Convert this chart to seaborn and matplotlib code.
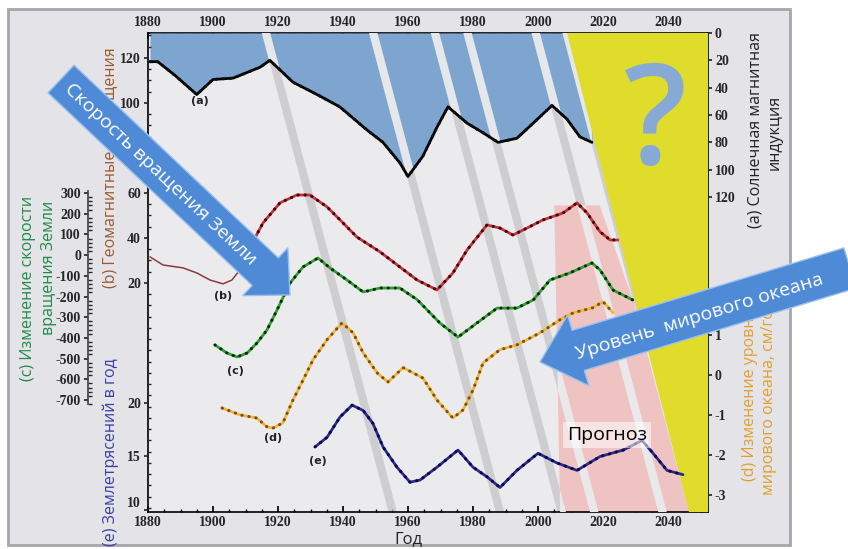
import matplotlib
matplotlib.use('Agg')
import matplotlib.pyplot as plt
import seaborn as sns
from matplotlib.patches import FancyArrow, Rectangle
from matplotlib.ticker import MultipleLocator, FixedLocator

# (a) solar magnetic induction (right axis, inverted)
a_years = [1880.6, 1883, 1888.3, 1895, 1900, 1906.2, 1914.5, 1917.5, 1924.6, 1932, 1939,
           1947.4, 1952.3, 1957.5, 1960, 1964.6, 1968.9, 1972.3, 1978.2, 1983.1, 1987.7,
           1993.5, 1998.5, 2004.3, 2008.9, 2012.9, 2016.6]
a_vals = [21, 21, 31, 45, 34, 33, 25, 20, 36, 45, 54, 71, 80, 95, 105, 90, 69, 54, 66, 73,
          80, 77, 66, 53, 63, 76, 80]

# (b) geomagnetic disturbance: early thin part and main part
b_early_years = [1880.6, 1884.6, 1890.8, 1895.1, 1899.1, 1903.1, 1905.8, 1908.3]
b_early_vals = [31.6, 28, 26.7, 24.4, 21.3, 19.6, 21.3, 25.8]
b_years = [1908.3, 1911.4, 1915.4, 1920.6, 1925.8, 1929.8, 1935.1, 1939.1, 1944.3, 1951.4,
           1957.5, 1962.8, 1968.9, 1973.8, 1978.2, 1984.3, 1988.3, 1992.3, 1996.6, 2001.5,
           2007.7, 2012, 2015.1, 2019.1, 2022.2, 2024.6]
b_vals = [25.8, 36, 46.7, 55.6, 59.1, 59.1, 53.8, 48, 40.4, 33.8, 27.1, 21.3, 16.9, 24.4,
          34.7, 45.8, 44.4, 41.3, 44.4, 48, 51.1, 55.6, 51.1, 42.7, 39.1, 39.1]

# (c) change of Earth rotation speed
c_years = [1900.6, 1904.3, 1907.4, 1910.5, 1913.5, 1916.6, 1919.7, 1923.7, 1927.7, 1932.3,
           1936, 1941.2, 1946.2, 1951.4, 1957.5, 1962.8, 1969.8, 1975.4, 1981.2, 1987.4,
           1993.5, 1998.5, 2003.7, 2009.8, 2016.6, 2019.1, 2023.1, 2029.2]
c_vals = [-434, -473, -492, -473, -425, -362, -265, -135, -57, -14, -62, -120, -178, -159,
          -159, -215, -328, -396, -328, -256, -256, -217, -120, -86, -38, -72, -169, -217]

# (d) sea level change, cm/year
d_years = [1902.8, 1908.3, 1913.5, 1916.6, 1918.5, 1921.5, 1924.6, 1927.7, 1930.8, 1935.1,
           1939.7, 1943.1, 1946.2, 1950.5, 1953.8, 1958.5, 1964.6, 1968.9, 1973.8, 1976.9,
           1980, 1983.1, 1988.3, 1993.5, 2000.6, 2006.8, 2010.8, 2016.9, 2020, 2023.1]
d_vals = [-0.83, -1.0, -1.08, -1.3, -1.33, -1.2, -0.63, -0.13, 0.38, 0.88, 1.3, 1.05, 0.55,
          0.05, -0.18, 0.18, -0.08, -0.63, -1.08, -0.88, -0.38, 0.3, 0.63, 0.75, 1.05, 1.38,
          1.55, 1.68, 1.83, 1.55]

# (e) earthquakes per year
e_years = [1931.4, 1935.1, 1939.1, 1942.8, 1946.2, 1949.2, 1952.3, 1956.6, 1960.6, 1963.7,
           1968.9, 1975.4, 1980, 1984.3, 1988.3, 1993.5, 2000, 2005.8, 2012, 2019.1, 2026.2,
           2032, 2035.4, 2039.7, 2044.6]
e_vals = [15.9, 16.8, 18.7, 19.8, 19.3, 18.1, 15.9, 14, 12.6, 12.8, 14, 15.6, 14, 13.1, 12.1,
          13.7, 15.3, 14.4, 13.7, 15, 15.6, 16.5, 15.3, 13.7, 13.3]

x_ticks = list(range(1880, 2041, 20))
a_ticks = list(range(0, 121, 20))
b_ticks = list(range(20, 121, 20))
c_ticks = list(range(-700, 301, 100))
d_ticks = [-3, -2, -1, 0, 1]
e_ticks = [10, 15, 20]

# diagonal bands (year at the top edge), forecast zone
band_years = [1915, 1948, 1967, 1977, 1998, 2007.5]
band_shift, band_w = 39, 2.6
yellow_x = [2009, 2053, 2053, 2046.5]
pink_x = [2005, 2019, 2052, 2006.8]
pink_y = [0.64, 0.64, 0, 0]

sns.set_theme(style='ticks')
plt.rcParams['font.family'] = ['Open Sans', 'DejaVu Sans']

W, H = 848, 549
fig = plt.figure(figsize=(W / 100, H / 100), dpi=100, facecolor='white')
X0, X1, Y0, Y1 = 148, 708, 33, 512
pos = [X0 / W, 1 - Y1 / H, (X1 - X0) / W, (Y1 - Y0) / H]
tick_font = dict(fontfamily='Liberation Serif', fontweight='bold', fontsize=10)

bg = fig.add_axes([0, 0, 1, 1], zorder=-1)
bg.set_xlim(0, W)
bg.set_ylim(H, 0)
bg.axis('off')
bg.add_patch(Rectangle((8, 9), 782, 536, fc='#e4e4e8', ec='#a6a6aa', lw=2))

ax = fig.add_axes(pos)
ax.set_facecolor('#ebebee')
ax.set_xlim(1880, 2052.3)
ax.set_ylim(0, 1)
ax.set_yticks([])
for s in ax.spines.values():
    s.set_color('black')
    s.set_linewidth(1.2)
ax.set_xticks(x_ticks, labels=[str(t) for t in x_ticks], **tick_font)
ax.xaxis.set_minor_locator(MultipleLocator(5))
ax.tick_params(axis='x', which='both', direction='in', top=True, bottom=True,
               labeltop=True, labelbottom=True, length=4, pad=3, color='black')
ax.tick_params(axis='x', which='minor', length=2)


def band(t):
    return [t, t + band_w, t + band_w + band_shift, t + band_shift], [1, 1, 0, 0]


for t in band_years:
    xs, ys = band(t)
    ax.fill(xs, ys, color='#c2c2c6', alpha=0.7, lw=0, zorder=1)
pink = ax.fill(pink_x, pink_y, color='#efc3c1', lw=0, zorder=2)[0]
for t in band_years:
    xs, ys = band(t)
    p = ax.fill(xs, ys, color='#e9e9ec', lw=0, zorder=3)[0]
    p.set_clip_path(pink)


def twin(ylim):
    t = fig.add_axes(pos, sharex=ax)
    t.patch.set_visible(False)
    t.set_ylim(*ylim)
    t.xaxis.set_visible(False)
    for s in t.spines.values():
        s.set_visible(False)
    return t


def curve(axis, xs, ys, color, dot):
    sns.lineplot(x=xs, y=ys, ax=axis, color=color, lw=2.0, zorder=4)
    sns.lineplot(x=xs, y=ys, ax=axis, color=dot, lw=2.2, zorder=5,
                 linestyle=(0, (0.1, 2.2)), dash_capstyle='round')


# (a)
ax_a = twin((350.4, 0))
fill = ax_a.fill_between(a_years, a_vals, 0, color='#7ea5cf', lw=0, zorder=1)
clip = fill.get_paths()[0]
for t in band_years:
    xs, ys = band(t)
    p = ax_a.fill(xs, ys, transform=ax_a.get_xaxis_transform(), color='#e6e7eb', lw=0, zorder=2)[0]
    p.set_clip_path(clip, ax_a.transData)
ax_a.fill(yellow_x, [1, 1, 0, 0], transform=ax_a.get_xaxis_transform(),
          color='#dfdc2c', lw=0, zorder=2.5)
curve(ax_a, a_years, a_vals, 'black', '#111111')
ax_a.yaxis.tick_right()
ax_a.set_yticks(a_ticks, labels=[str(t) for t in a_ticks], **tick_font)
ax_a.yaxis.set_minor_locator(MultipleLocator(5))
ax_a.tick_params(axis='y', which='major', direction='out', length=3, pad=2, right=True)
ax_a.tick_params(axis='y', which='minor', direction='in', length=2, right=True)

# (b)
ax_b = twin((-81.8, 131.1))
sns.lineplot(x=b_early_years, y=b_early_vals, ax=ax_b, color='#8a3a40', lw=1.1, zorder=4)
curve(ax_b, b_years, b_vals, '#c8303c', '#3a0808')
ax_b.set_yticks(b_ticks, labels=[str(t) for t in b_ticks], **tick_font)
ax_b.yaxis.set_minor_locator(MultipleLocator(5))
ax_b.tick_params(axis='y', which='major', direction='out', length=3, pad=2, left=True)
ax_b.tick_params(axis='y', which='minor', direction='in', length=2, left=True)

# (c)
ax_c = twin((-1241, 1073))
curve(ax_c, c_years, c_vals, '#2ea02e', '#0a2a0a')
ax_c.spines['left'].set_visible(True)
ax_c.spines['left'].set_position(('outward', 43.2))
ax_c.spines['left'].set_bounds(-720, 310)
ax_c.spines['left'].set_color('#444444')
ax_c.set_yticks(c_ticks, labels=[str(t) for t in c_ticks], **tick_font)
ax_c.yaxis.set_minor_locator(FixedLocator(list(range(-720, 311, 20))))
ax_c.tick_params(axis='y', which='major', direction='out', length=3, pad=2, left=True)
ax_c.tick_params(axis='y', which='minor', direction='in', length=3, left=True)

# (d)
ax_d = twin((-3.43, 8.55))
curve(ax_d, d_years, d_vals, '#f2b43a', '#7a5010')
ax_d.yaxis.tick_right()
ax_d.set_yticks(d_ticks, labels=[str(t) for t in d_ticks], **tick_font)
ax_d.tick_params(axis='y', which='major', direction='out', length=3, pad=2, right=True)

# (e)
ax_e = twin((9.81, 54.6))
curve(ax_e, e_years, e_vals, '#2a2a92', '#0a0a40')
ax_e.set_yticks(e_ticks, labels=[str(t) for t in e_ticks], **tick_font)
ax_e.tick_params(axis='y', which='major', direction='out', length=3, pad=2, left=True)
ax_e.get_yticklabels()[0].set_verticalalignment('bottom')

for t in (ax, ax_a, ax_b, ax_c, ax_d, ax_e):
    t.set_xlabel('')
    t.set_ylabel('')
ax.set_xlim(1880, 2052.3)


# axis titles
def ftext(x, y, s, **kw):
    fig.text(x / W, 1 - y / H, s, ha='center', va='center', rotation_mode='anchor', **kw)


ftext(111, 168, '(b) Геомагнитные возмущения', rotation=90, color='#9a5a2c', fontsize=11.5)
ftext(28, 288, '(c) Изменение скорости', rotation=90, color='#1f8a4a', fontsize=11.5)
ftext(49, 268, 'вращения Земли', rotation=90, color='#1f8a4a', fontsize=11.5)
ftext(111, 452, '(e) Землетрясений в год', rotation=90, color='#3c3ca6', fontsize=11.5)
ftext(755, 130, '(a) Солнечная магнитная', rotation=90, color='#222222', fontsize=11.5)
ftext(775, 132, 'индукция', rotation=90, color='#222222', fontsize=11.5)
ftext(750, 395, '(d) Изменение уровня', rotation=90, color='#e0a02a', fontsize=11.5)
ftext(769, 397, 'мирового океана, см/год', rotation=90, color='#e0a02a', fontsize=11.5)
ftext(408, 539, 'Год', color='#222222', fontsize=12)

# overlay: curve tags, arrows, notes
ov = fig.add_axes([0, 0, 1, 1], zorder=10)
ov.set_xlim(0, W)
ov.set_ylim(H, 0)
ov.axis('off')
for x, y, s in [(200, 101, '(a)'), (223, 296, '(b)'), (235, 371, '(c)'),
                (273, 438, '(d)'), (318, 461, '(e)')]:
    ov.text(x, y, s, ha='center', va='center', fontsize=8, fontweight='bold',
            family='DejaVu Sans', color='#222222')

ov.text(655, 128, '?', ha='center', va='center', fontsize=100, fontweight='semibold',
        color='#86aad5')
ov.add_patch(FancyArrow(61, 79, 229, 216, width=38, head_width=66, head_length=34,
                        length_includes_head=True, fc='#4f8ad6', ec='#9cc0ee', lw=1))
ov.text(160, 174, 'Скорость вращения Земли', rotation=-43.3, color='white', fontsize=14,
        ha='center', va='center', rotation_mode='anchor')
ov.add_patch(FancyArrow(850, 268, -310, 94, width=42, head_width=74, head_length=40,
                        length_includes_head=True, fc='#4f8ad6', ec='#9cc0ee', lw=1))
ov.text(700, 317, 'Уровень  мирового океана', rotation=17, color='white', fontsize=14,
        ha='center', va='center', rotation_mode='anchor')
ov.text(607, 435, 'Прогноз', ha='center', va='center', fontsize=14, color='black',
        bbox=dict(boxstyle='square,pad=0.2', fc='white', ec='none', alpha=0.55))

fig.savefig('out.png', dpi=100, facecolor='white')
plt.close()
